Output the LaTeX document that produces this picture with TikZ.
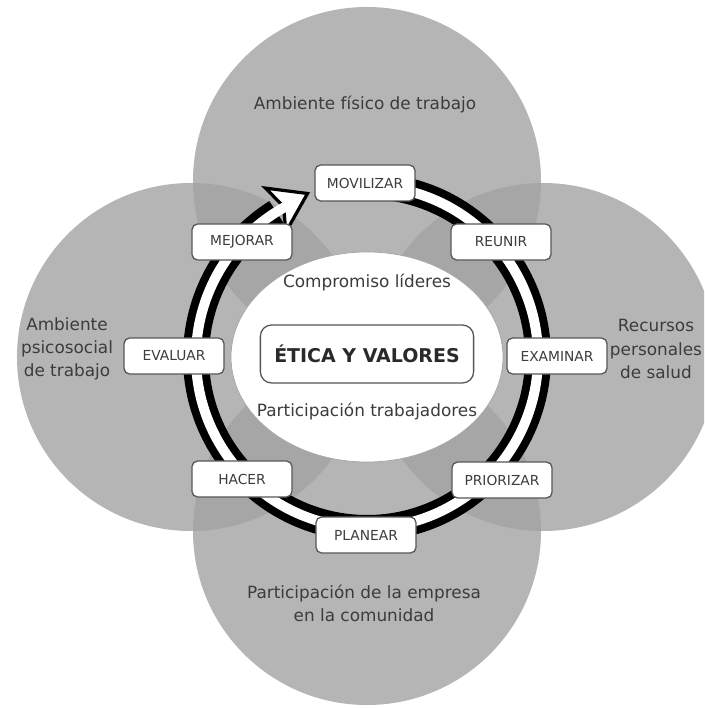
\documentclass[tikz,border=0pt]{standalone}
\usepackage{fontspec}
\setmainfont{DejaVu Sans}
\definecolor{circlegray}{RGB}{181,181,181}
\definecolor{overlapgray}{RGB}{166,166,166}
\definecolor{textgray}{RGB}{60,60,60}
\definecolor{boxline}{RGB}{85,85,85}
\tikzset{
  stage/.style={draw=boxline, line width=0.9pt, fill=white, rounded corners=4pt,
    minimum width=2.5cm, minimum height=0.9cm, inner sep=0pt,
    text=textgray, font=\fontsize{9.8}{12}\selectfont},
  area/.style={text=textgray, align=center, font=\fontsize{12}{16.5}\selectfont},
}

\begin{document}
\begin{tikzpicture}[x=0.025cm, y=0.025cm]
    % one unit is one pixel of the original figure
    \def\circr{174}
    \def\ringr{171}

    \useasboundingbox (-367,-351) rectangle (337,357);
    \clip (-367,-351) rectangle (337,357);
    \fill[white] (-367,-351) rectangle (337,357);

    % Centres of the four areas
    \coordinate (ctop) at (0,176);
    \coordinate (cleft) at (-176,0);
    \coordinate (cright) at (176,0);
    \coordinate (cbottom) at (0,-174);

    \foreach \c in {ctop,cleft,cright,cbottom}
      \fill[circlegray] (\c) circle[radius=\circr];

    % Darker where two areas overlap
    \foreach \a/\b in {ctop/cleft,ctop/cright,cbottom/cleft,cbottom/cright} {
      \begin{scope}
        \clip (\a) circle[radius=\circr];
        \fill[overlapgray] (\b) circle[radius=\circr];
      \end{scope}
    }

    % Cycle arrow
    \draw[line width=0.65cm] (88:\ringr) arc[start angle=88, end angle=-238, radius=\ringr];
    \draw[fill=white, line width=0.08cm, line join=miter]
      (121:197) -- (110:174) -- (123:149) -- (119:172) -- cycle;
    \draw[white, line width=0.25cm] (88:\ringr) arc[start angle=88, end angle=-243, radius=\ringr];

    % Centre
    \draw[gray!70, line width=0.5pt, fill=white] (0,0) ellipse[x radius=136, y radius=105];
    \node[draw=boxline, line width=0.9pt, rounded corners=8pt, minimum width=5.33cm,
      minimum height=1.45cm, text=textgray!70!black,
      font=\fontsize{13.5}{16}\selectfont\bfseries] (etica) at (0,3) {ÉTICA Y VALORES};
    \node[area] (lideres) at (0,74) {Compromiso líderes};
    \node[area] (trabajadores) at (0,-55) {Participación trabajadores};

    % Steps of the cycle
    \node[stage] (movilizar) at (-2,174) {MOVILIZAR};
    \node[stage] (reunir) at (134,115) {REUNIR};
    \node[stage] (examinar) at (190,1) {EXAMINAR};
    \node[stage] (priorizar) at (135,-123) {PRIORIZAR};
    \node[stage] (planear) at (-1,-178) {PLANEAR};
    \node[stage] (hacer) at (-125,-122) {HACER};
    \node[stage] (evaluar) at (-193,1) {EVALUAR};
    \node[stage] (mejorar) at (-125,115) {MEJORAR};

    % Labels of the areas
    \node[area] (fisico) at (-2,252) {Ambiente físico de trabajo};
    \node[area] (psicosocial) at (-300,8) {Ambiente\\psicosocial\\de trabajo};
    \node[area] (recursos) at (289,8) {Recursos\\personales\\de salud};
    \node[area] (comunidad) at (-3,-246) {Participación de la empresa\\en la comunidad};
\end{tikzpicture}
\end{document}
